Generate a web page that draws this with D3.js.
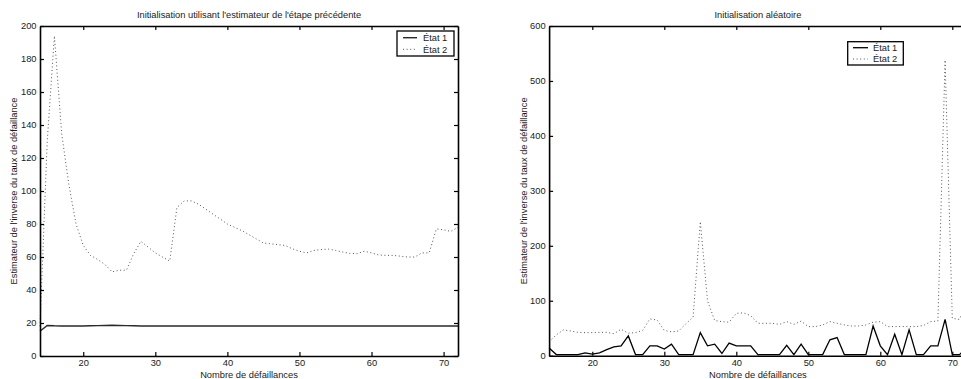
<!DOCTYPE html>
<html>
<head>
<meta charset="utf-8">
<script src="https://cdn.jsdelivr.net/npm/d3@7"></script>
<style>
  html, body { margin: 0; padding: 0; background: #fff; }
  svg { display: block; }
  text { font-family: "Liberation Sans", Arial, Helvetica, sans-serif; fill: #1a1a1a; }
</style>
</head>
<body>
<svg id="chart" width="961" height="379"></svg>
<script>
// ---------------- DATA ----------------
const nbDefaillances = [14,15,16,17,18,19,20,21,22,23,24,25,26,27,28,29,30,31,32,33,34,35,36,37,38,39,40,41,42,43,44,45,46,47,48,49,50,51,52,53,54,55,56,57,58,59,60,61,62,63,64,65,66,67,68,69,70,71,72];

// Panel 1 : Initialisation utilisant l'estimateur de l'étape précédente
const gaucheEtat1 = [15,18.5,18.3,18.2,18.2,18.2,18.2,18.3,18.4,18.5,18.6,18.5,18.4,18.3,18.2,18.2,18.2,18.2,18.2,18.2,18.2,18.2,18.2,18.2,18.2,18.2,18.2,18.2,18.2,18.2,18.2,18.2,18.2,18.2,18.2,18.2,18.2,18.2,18.2,18.2,18.2,18.2,18.2,18.2,18.2,18.2,18.2,18.2,18.2,18.2,18.2,18.2,18.2,18.2,18.2,18.2,18.2,18.2,18.2];
const gaucheEtat2 = [18,130,194,135,104,80,67,61,58.5,55.5,51,52,52,62,69.5,66,62.5,60,57.5,90,94,94,92,89,86,83,80,78,76,73.5,71,68.5,68,67.5,67,65,63.5,62.5,64,64.5,64.8,64,63,62.2,62,63.5,62.5,61.2,61,61,60.5,60,60,62.5,62.5,77,76.5,75.5,78];

// Panel 2 : Initialisation aléatoire
const droiteEtat1 = [14,2,2,2,2,5,3,5,11,16,18,36,2,2,18,18,12,21,2,2,2,42,18,21,4,23,18,18,18,2,2,2,2,19,2,21,2,2,2,29,33,2,2,2,2,54,18,2,39,2,47,2,2,18,18,66,2,2,15];
const droiteEtat2 = [25,38,47,45,42.5,42,42,42.5,42.5,40,48,41,42,46,67,65,46,43.5,45,58,70,244,100,64,62,61,77,78,73,59,59,59,57,62,57,63,53,53,56,62,59,56,54,54,56,61,62,53,53,53,53,53,55,62,63,538,68,66,100];

const xTickValues = [20,30,40,50,60,70];
const yTicksGauche = [0,20,40,60,80,100,120,140,160,180,200];
const yTicksDroite = [0,100,200,300,400,500,600];
const titres = ["Initialisation utilisant l'estimateur de l'étape précédente", "Initialisation aléatoire"];
const legendeLabels = ["État 1", "État 2"];
const xTitre = "Nombre de défaillances";
const yTitre = "Estimateur de l'inverse du taux de défaillance";

// ---------------- LAYOUT ----------------
const svg = d3.select("#chart");
const FS = 9.3;

const panels = [
  { left: 40, right: 458, top: 26, bottom: 356, xDomain: [14, 72], yDomain: [0, 200],
    yTicks: yTicksGauche, s1: gaucheEtat1, s2: gaucheEtat2, titre: titres[0],
    ylabX: 16.5, legend: { x0: 397, x1: 454, y0: 31, y1: 56, lx0: 403, lx1: 417, tx: 423, r1: 37.7, r2: 49.3 },
    s1Color: "#2a2a2a", s1Width: 1.4 },
  { left: 549.1, right: 966.7, top: 26, bottom: 355.7, xDomain: [14, 72], yDomain: [0, 600],
    yTicks: yTicksDroite, s1: droiteEtat1, s2: droiteEtat2, titre: titres[1],
    ylabX: 526.5, legend: { x0: 847.7, x1: 903.3, y0: 41.7, y1: 65, lx0: 853, lx1: 868, tx: 873, r1: 47.7, r2: 59 },
    s1Color: "#000", s1Width: 1.3 }
];

panels.forEach(p => {
  const x = d3.scaleLinear().domain(p.xDomain).range([p.left, p.right]);
  const y = d3.scaleLinear().domain(p.yDomain).range([p.bottom, p.top]);
  const g = svg.append("g");

  // series
  const line = (vals) => d3.line().x((d, i) => x(nbDefaillances[i])).y(d => y(d))(vals);
  g.append("path").attr("d", line(p.s2)).attr("fill", "none")
    .attr("stroke", "#555").attr("stroke-width", 1).attr("stroke-dasharray", "1,2.6");
  g.append("path").attr("d", line(p.s1)).attr("fill", "none")
    .attr("stroke", p.s1Color).attr("stroke-width", p.s1Width).attr("stroke-linejoin", "miter");

  // axes (box with inward ticks)
  const styleAxis = (sel, showLabels) => {
    sel.select(".domain").attr("stroke", "#000").attr("stroke-width", 1.6);
    sel.selectAll(".tick line").attr("stroke", "#000").attr("stroke-width", 1.2);
    sel.selectAll(".tick text").style("font-size", FS + "px").attr("fill", "#1a1a1a");
    if (!showLabels) sel.selectAll(".tick text").remove();
    sel.attr("font-family", null).attr("font-size", null);
  };
  g.append("g").attr("transform", `translate(0,${p.bottom})`)
    .call(d3.axisBottom(x).tickValues(xTickValues).tickSize(-4).tickSizeOuter(0).tickPadding(3.5))
    .call(s => styleAxis(s, true));
  g.append("g").attr("transform", `translate(0,${p.top})`)
    .call(d3.axisTop(x).tickValues(xTickValues).tickSize(-4).tickSizeOuter(0))
    .call(s => styleAxis(s, false));
  g.append("g").attr("transform", `translate(${p.left},0)`)
    .call(d3.axisLeft(y).tickValues(p.yTicks).tickSize(-4).tickSizeOuter(0).tickPadding(3.5))
    .call(s => styleAxis(s, true));
  g.append("g").attr("transform", `translate(${p.right},0)`)
    .call(d3.axisRight(y).tickValues(p.yTicks).tickSize(-4).tickSizeOuter(0))
    .call(s => styleAxis(s, false));

  // titles
  const cx = (p.left + p.right) / 2;
  g.append("text").attr("x", cx).attr("y", 18.3).attr("text-anchor", "middle")
    .style("font-size", FS + "px").text(p.titre);
  g.append("text").attr("x", cx).attr("y", 377.5).attr("text-anchor", "middle")
    .style("font-size", FS + "px").text(xTitre);
  g.append("text").attr("transform", `translate(${p.ylabX},${(p.top + p.bottom) / 2}) rotate(-90)`)
    .attr("text-anchor", "middle").style("font-size", FS + "px").text(yTitre);

  // legend
  const L = p.legend;
  const lg = g.append("g");
  lg.append("rect").attr("x", L.x0).attr("y", L.y0).attr("width", L.x1 - L.x0).attr("height", L.y1 - L.y0)
    .attr("fill", "#fff").attr("stroke", "#000").attr("stroke-width", 1.3);
  [[L.r1, p.s1Color, null, p.s1Width], [L.r2, "#555", "1,2.6", 1]].forEach((r, i) => {
    lg.append("line").attr("x1", L.lx0).attr("x2", L.lx1).attr("y1", r[0]).attr("y2", r[0])
      .attr("stroke", r[1]).attr("stroke-width", r[3]).attr("stroke-dasharray", r[2]);
    lg.append("text").attr("x", L.tx).attr("y", r[0] + 3.3).style("font-size", FS + "px").text(legendeLabels[i]);
  });
});
</script>
</body>
</html>
